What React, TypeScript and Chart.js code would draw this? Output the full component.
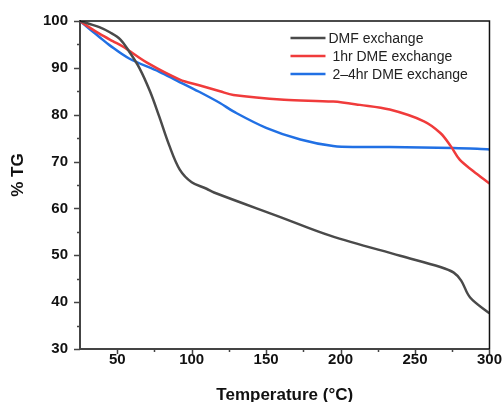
import { useEffect, useRef } from "react";
import { Chart, registerables } from "chart.js";

Chart.register(...registerables);

// ---- data ----
const dmfTemp = [25, 31, 38, 45, 52, 58, 65, 72, 78, 85, 92, 100, 110, 115, 160, 193, 240, 267, 276, 281, 287, 300];
const dmfTG = [100, 99.4, 98.7, 97.6, 96.1, 93.5, 89.9, 85.0, 79.8, 73.4, 68.3, 65.6, 64.2, 63.4, 58.1, 54.2, 49.9, 47.5, 46.3, 44.6, 41.0, 37.6];

const dme1Temp = [25, 31, 38, 47, 54, 70, 92, 105, 119, 128, 162, 195, 213, 233, 256, 267, 274, 280, 289, 300];
const dme1TG = [100, 98.7, 97.3, 95.7, 94.5, 91.1, 87.5, 86.3, 85.0, 84.2, 83.2, 82.8, 82.1, 81.1, 78.6, 76.1, 73.3, 70.4, 68.0, 65.3];

const dme24Temp = [25, 31, 38, 45, 58, 78, 90, 105, 119, 128, 150, 173, 195, 213, 233, 276, 300];
const dme24TG = [100, 98.4, 96.6, 94.8, 92.0, 89.2, 87.3, 84.9, 82.5, 80.7, 77.2, 74.7, 73.3, 73.1, 73.1, 72.9, 72.6];

const xTickValues = [50, 100, 150, 200, 250, 300];
const yTickValues = [30, 40, 50, 60, 70, 80, 90, 100];
const xMinorValues = [75, 125, 175, 225, 275];
const yMinorValues = [35, 45, 55, 65, 75, 85, 95];

const seriesLabels = ["DMF exchange", " 1hr DME exchange", " 2\u20134hr DME exchange"];
const seriesColors = ["#4a4a4a", "#f03b3b", "#2170e4"];

const xTitle = "Temperature (\u00B0C)";
const yTitle = "% TG";

const FONT = "'Liberation Sans', Arial, sans-serif";

function toPoints(xs: number[], ys: number[]) {
  return xs.map((x, i) => ({ x, y: ys[i] }));
}

const decorPlugin = {
  id: "decor",
  afterDatasetsDraw(chart: any) {
    const { ctx, chartArea, scales } = chart;
    const { left, right, top, bottom } = chartArea;
    const xs = scales.x;
    const ys = scales.y;
    ctx.save();

    // top & right frame
    ctx.strokeStyle = "#111";
    ctx.lineWidth = 1.5;
    ctx.beginPath();
    ctx.moveTo(left, top);
    ctx.lineTo(right, top);
    ctx.lineTo(right, bottom);
    ctx.stroke();

    // tick marks (major and minor, outward)
    ctx.strokeStyle = "#444";
    ctx.lineWidth = 1.5;
    ctx.beginPath();
    xTickValues.forEach((v) => {
      const p = Math.round(xs.getPixelForValue(v)) + 0.5;
      ctx.moveTo(p, bottom);
      ctx.lineTo(p, bottom + 5);
    });
    xMinorValues.forEach((v) => {
      const p = Math.round(xs.getPixelForValue(v)) + 0.5;
      ctx.moveTo(p, bottom);
      ctx.lineTo(p, bottom + 3);
    });
    yTickValues.forEach((v) => {
      const p = Math.round(ys.getPixelForValue(v)) + 0.5;
      ctx.moveTo(left, p);
      ctx.lineTo(left - 6, p);
    });
    yMinorValues.forEach((v) => {
      const p = Math.round(ys.getPixelForValue(v)) + 0.5;
      ctx.moveTo(left, p);
      ctx.lineTo(left - 3, p);
    });
    ctx.stroke();

    // legend inside plot area
    const lx = right - 199;
    const rows = [top + 17, top + 35, top + 53];
    ctx.font = `14px ${FONT}`;
    ctx.textBaseline = "middle";
    ctx.textAlign = "left";
    seriesLabels.forEach((lab, i) => {
      ctx.strokeStyle = seriesColors[i];
      ctx.lineWidth = 2.5;
      ctx.beginPath();
      ctx.moveTo(lx, rows[i]);
      ctx.lineTo(lx + 35, rows[i]);
      ctx.stroke();
      ctx.fillStyle = "#222";
      ctx.fillText(lab, lx + 38, rows[i] + 1);
    });

    // axis titles
    ctx.fillStyle = "#111";
    ctx.font = `bold 17px ${FONT}`;
    ctx.textAlign = "center";
    ctx.textBaseline = "middle";
    ctx.fillText(xTitle, (left + right) / 2, 395);
    ctx.save();
    ctx.translate(18.5, 175);
    ctx.rotate(-Math.PI / 2);
    ctx.fillText(yTitle, 0, 0);
    ctx.restore();

    ctx.restore();
  },
};

export default function App() {
  const ref = useRef<HTMLCanvasElement | null>(null);

  useEffect(() => {
    if (!ref.current) return;
    const mk = (i: number, xs: number[], ys: number[]) => ({
      label: seriesLabels[i],
      data: toPoints(xs, ys),
      borderColor: seriesColors[i],
      backgroundColor: seriesColors[i],
      borderWidth: 2.5,
      pointRadius: 0,
      tension: 0.35,
      fill: false,
    });
    const chart = new Chart(ref.current, {
      type: "line",
      data: {
        datasets: [
          mk(0, dmfTemp, dmfTG),
          mk(1, dme1Temp, dme1TG),
          mk(2, dme24Temp, dme24TG),
        ],
      },
      options: {
        animation: false,
        responsive: false,
        layout: { padding: { left: 0, right: 14, top: 19, bottom: 0 } },
        plugins: { legend: { display: false }, tooltip: { enabled: false } },
        scales: {
          x: {
            type: "linear",
            min: 25,
            max: 300,
            afterBuildTicks: (s: any) => {
              s.ticks = xTickValues.map((v) => ({ value: v }));
            },
            afterFit: (s: any) => {
              s.height = 53;
            },
            grid: { display: true, drawOnChartArea: false, drawTicks: false },
            border: { display: true, color: "#444", width: 2 },
            ticks: {
              padding: 2,
              color: "#111",
              font: { family: FONT, size: 15, weight: "bold" },
              maxRotation: 0,
            },
          },
          y: {
            type: "linear",
            min: 30,
            max: 100,
            afterBuildTicks: (s: any) => {
              s.ticks = yTickValues.map((v) => ({ value: v }));
            },
            afterFit: (s: any) => {
              s.width = 80;
            },
            grid: { display: true, drawOnChartArea: false, drawTicks: false },
            border: { display: true, color: "#444", width: 2 },
            ticks: {
              padding: 12,
              color: "#111",
              font: { family: FONT, size: 15, weight: "bold" },
            },
          },
        },
      },
      plugins: [decorPlugin],
    });
    return () => chart.destroy();
  }, []);

  return (
    <div style={{ position: "fixed", left: 0, top: 0, width: 504, height: 402, background: "#fff" }}>
      <canvas ref={ref} width={504} height={402} />
    </div>
  );
}
